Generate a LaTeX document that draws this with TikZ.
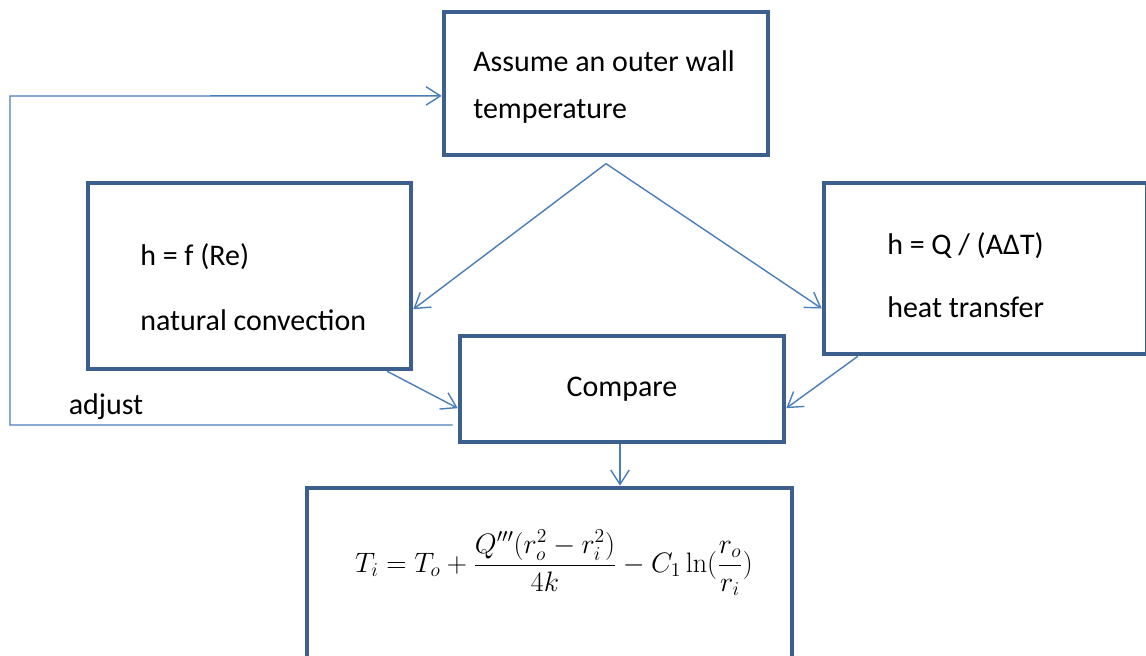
\RequirePackage{fix-cm}
\documentclass[tikz,border=0pt]{standalone}
\usepackage[no-math]{fontspec}
\setmainfont{Carlito}
\usepackage{amsmath}
\usetikzlibrary{arrows.meta,positioning}
\definecolor{boxblue}{HTML}{3C5F8E}
\definecolor{lineblue}{HTML}{4A7EBB}

\begin{document}
\begin{tikzpicture}[
  x=0.025cm, y=-0.025cm,
  stepbox/.style={draw=boxblue, line width=3.2pt, fill=white, inner sep=0pt, font=\fontsize{21.3}{25}\selectfont},
  steptext/.style={align=left, anchor=west, inner sep=0pt, font=\fontsize{21.3}{25}\selectfont},
  flow/.style={-{Straight Barb[length=3.6mm, width=4.6mm]}, draw=lineblue, line width=1pt},
  note/.style={font=\fontsize{21.3}{25}\selectfont, inner sep=0pt}
]
  \useasboundingbox (0,0) rectangle (1146,656);

  % the boxes
  \node[stepbox, minimum width=8.1cm, minimum height=3.575cm] (guess) at (606,83.5) {};
  \node[stepbox, minimum width=8.075cm, minimum height=4.65cm] (conv) at (249.5,276) {};
  \node[stepbox, minimum width=8.075cm, minimum height=4.275cm] (heat) at (985.5,268.5) {};
  \node[stepbox, minimum width=8.1cm, minimum height=2.65cm] (cmp) at (622,389) {Compare};
  \node[stepbox, minimum width=12.125cm, minimum height=4.35cm] (res) at (549.5,575) {};

  % texts in the boxes
  \node[steptext] (guesstxt) at (473,87) {Assume an outer wall\\[9pt]temperature};
  \node[steptext] (convtxt) at (140,287) {h = f (Re)\\[21pt]natural convection};
  \node[steptext] (heattxt) at (887,275) {h = Q / (AΔT)\\[20pt]heat transfer};
  \node[font=\fontsize{20}{24}\selectfont, inner sep=0pt] (law) at (554,563)
    {$T_i = T_o + \dfrac{Q'''(r_o^2 - r_i^2)}{4k} - C_1 \ln(\dfrac{r_o}{r_i})$};

  % connectors
  \coordinate (split) at ([yshift=-0.16cm]guess.south);
  \draw[flow] (split) -- ([yshift=-0.83cm]conv.east);
  \draw[flow] (split) -- ([yshift=-1.0cm]heat.west);
  \draw[flow] ([xshift=3.44cm]conv.south) -- ([yshift=-0.48cm]cmp.west);
  \draw[flow] ([xshift=-3.19cm]heat.south) -- ([yshift=-0.48cm]cmp.east);
  \draw[flow] ([xshift=-0.05cm]cmp.south) -- ([xshift=-0.05cm]cmp.south |- res.north);

  % feedback loop
  \coordinate (back) at (10,96);
  \draw[flow] ([xshift=-0.125cm, yshift=-0.9cm]cmp.west) -| (back) -- ([yshift=-0.31cm]guess.west);
  \node[note] (adj) at (106,407) {adjust};
\end{tikzpicture}
\end{document}
